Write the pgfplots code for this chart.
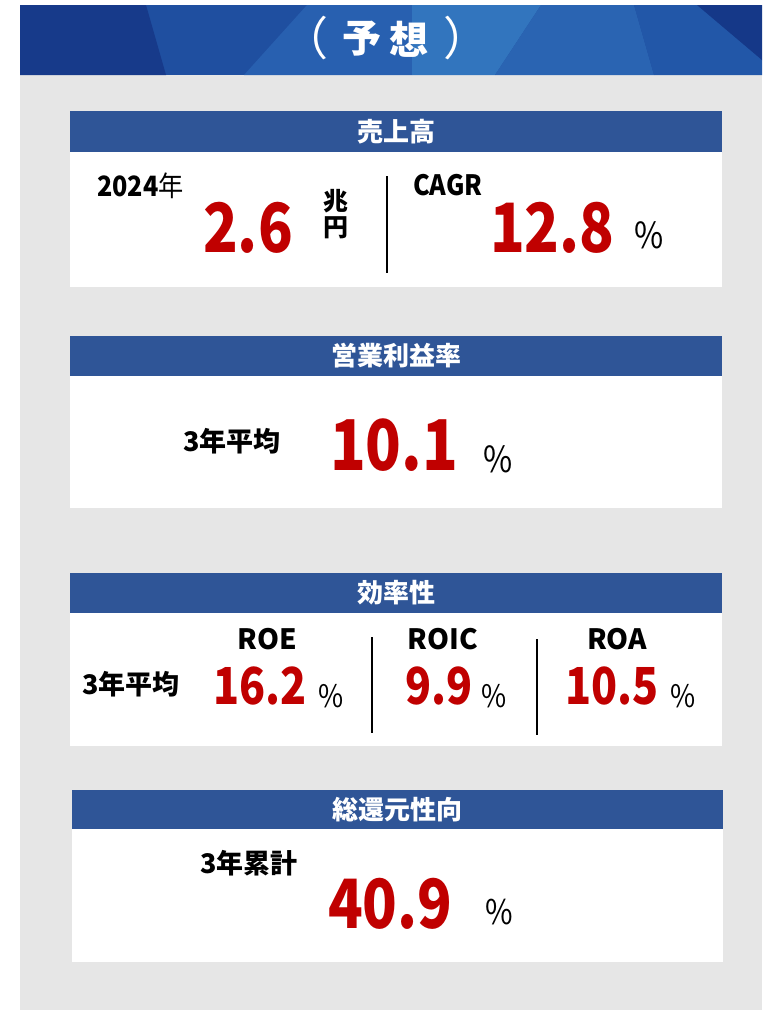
\documentclass[border=0pt]{standalone}
\usepackage{pgfplots}
\pgfplotsset{compat=1.18}
\usepackage{fontspec}
\setmainfont{Noto Sans CJK JP}
\definecolor{myred}{HTML}{C00000}
\definecolor{bar}{HTML}{2F5597}
\definecolor{panel}{HTML}{E6E6E6}
\definecolor{hA}{HTML}{173A8A}
\definecolor{hB}{HTML}{1F4FA0}
\definecolor{hC}{HTML}{2860B0}
\definecolor{hD}{HTML}{3275BE}
\definecolor{hE}{HTML}{2A64B2}
\definecolor{hF}{HTML}{2257A8}
\definecolor{hG}{HTML}{153888}
\newcommand{\fs}[1]{\fontsize{#1}{#1}\selectfont}
\tikzset{
  num/.style={anchor=base west, inner sep=0, text=myred, font=\bfseries\fs{#1}, xscale=0.84},
  pct/.style={anchor=base west, inner sep=0, font=\fs{#1}, xscale=0.88},
  lab/.style={inner sep=0, font=\bfseries\fs{#1}},
  ttl/.style={inner sep=0, text=white, font=\bfseries\fs{26}},
  hd/.style={inner sep=0, text=white, font=\bfseries\fs{39}}}
\begin{document}
\begin{tikzpicture}
\begin{axis}[scale only axis, width=764pt, height=1010pt,
  xmin=0, xmax=764, ymin=0, ymax=1010, y dir=reverse,
  hide axis, clip=false]
\addplot[draw=none] coordinates {(0,0) (764,1010)};
% background
\fill[white] (axis cs:0,0) rectangle (axis cs:764,1010);
\fill[panel] (axis cs:20,75) rectangle (axis cs:762,1010);
% header
\fill[hB] (axis cs:20,5) rectangle (axis cs:762,75);
\fill[hA] (axis cs:20,5) -- (axis cs:146,5) -- (axis cs:166,75) -- (axis cs:20,75) -- cycle;
\fill[hC] (axis cs:307,5) -- (axis cs:412,5) -- (axis cs:412,75) -- (axis cs:244,75) -- cycle;
\fill[hD] (axis cs:412,5) -- (axis cs:541,5) -- (axis cs:495,75) -- (axis cs:412,75) -- cycle;
\fill[hE] (axis cs:541,5) -- (axis cs:634,5) -- (axis cs:654,75) -- (axis cs:495,75) -- cycle;
\fill[hF] (axis cs:634,5) -- (axis cs:697,5) -- (axis cs:762,60) -- (axis cs:762,75) -- (axis cs:654,75) -- cycle;
\fill[hG] (axis cs:697,5) -- (axis cs:762,5) -- (axis cs:762,60) -- cycle;
\node[hd, font=\fs{46}] at (axis cs:305,38) {（};
\node[hd] at (axis cs:362,39) {予};
\node[hd] at (axis cs:409,39) {想};
\node[hd, font=\fs{46}] at (axis cs:466,38) {）};
% box 1
\fill[bar] (axis cs:70,111) rectangle (axis cs:722,152);
\fill[white] (axis cs:70,152) rectangle (axis cs:722,287);
\node[ttl] at (axis cs:396,131.5) {売上高};
\node[anchor=base west, inner sep=0, font=\fs{28}, xscale=0.9] at (axis cs:97,196) {\textbf{2024}年};
\node[num=68] at (axis cs:203,252) {2.6};
\node[lab=25] at (axis cs:336,201) {兆};
\node[lab=25] at (axis cs:336,228) {円};
\draw[line width=2pt] (axis cs:387,176) -- (axis cs:387,273);
\node[anchor=base west, inner sep=0, font=\bfseries\fs{28}, xscale=0.9] at (axis cs:413,195) {CAGR};
\node[num=68] at (axis cs:490,252) {12.8};
\node[pct=36] at (axis cs:634,248) {\%};
% box 2
\fill[bar] (axis cs:70,336) rectangle (axis cs:722,376);
\fill[white] (axis cs:70,376) rectangle (axis cs:722,508);
\node[ttl] at (axis cs:396,356) {営業利益率};
\node[lab=27, anchor=west] at (axis cs:183,441) {3年平均};
\node[num=70] at (axis cs:330,470) {10.1};
\node[pct=36] at (axis cs:483,472) {\%};
% box 3
\fill[bar] (axis cs:70,573) rectangle (axis cs:722,613);
\fill[white] (axis cs:70,613) rectangle (axis cs:722,746);
\node[ttl] at (axis cs:396,593) {効率性};
\node[lab=28, anchor=base] at (axis cs:267,649) {ROE};
\node[lab=28, anchor=base] at (axis cs:443,649) {ROIC};
\node[lab=28, anchor=base] at (axis cs:617,649) {ROA};
\node[lab=27, anchor=west] at (axis cs:82,684) {3年平均};
\node[num=51] at (axis cs:213,704) {16.2};
\node[pct=31] at (axis cs:318,707) {\%};
\draw[line width=2pt] (axis cs:372,637) -- (axis cs:372,733);
\node[num=51] at (axis cs:405,704) {9.9};
\node[pct=31] at (axis cs:481,707) {\%};
\draw[line width=2pt] (axis cs:537,639) -- (axis cs:537,735);
\node[num=51] at (axis cs:565,704) {10.5};
\node[pct=31] at (axis cs:670,707) {\%};
% box 4
\fill[bar] (axis cs:72,790) rectangle (axis cs:723,829);
\fill[white] (axis cs:72,829) rectangle (axis cs:723,962);
\node[ttl] at (axis cs:397,809.5) {総還元性向};
\node[lab=27, anchor=west] at (axis cs:200,863) {3年累計};
\node[num=68] at (axis cs:328,928) {40.9};
\node[pct=34] at (axis cs:485,924) {\%};
\end{axis}
\end{tikzpicture}
\end{document}
